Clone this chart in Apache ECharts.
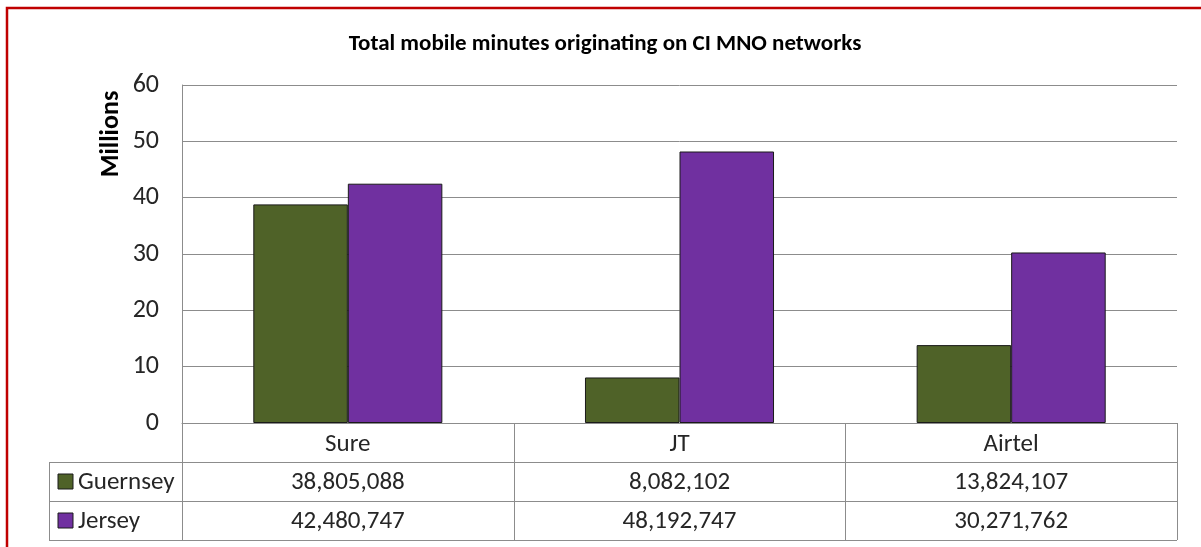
<!DOCTYPE html>
<html>
<head>
<meta charset="utf-8">
<script src="https://cdn.jsdelivr.net/npm/echarts@6/dist/echarts.min.js"></script>
<style>
  html, body { margin: 0; padding: 0; background: #fff; }
  #chart { width: 1201px; height: 547px; }
</style>
</head>
<body>
<div id="chart"></div>
<script>
// data
const operators = ["Sure", "JT", "Airtel"];
const seriesNames = ["Guernsey", "Jersey"];
const guernseyMinutes = [38805088, 8082102, 13824107];
const jerseyMinutes = [42480747, 48192747, 30271762];
const yTicks = { min: 0, max: 60, interval: 10 };

const colors = ["#4F6228", "#7030A0"];
const FONT = "Calibri, Carlito, 'Liberation Sans', Arial, sans-serif";
const gridLine = "#8c8c8c";
const textColor = "#262626";

// layout of plot area + table (px)
const plot = { left: 182, right: 1177, top: 85, bottom: 423 };
const rows = [423, 462, 501, 540];
const tableLeft = 49;

const chart = echarts.init(document.getElementById("chart"), null, { renderer: "canvas" });

const colW = (plot.right - plot.left) / operators.length;
const fmt = (n) => n.toLocaleString("en-US");

// table lines + texts
const graphics = [];
const line = (x1, y1, x2, y2) => ({
  type: "line",
  shape: { x1, y1, x2, y2 },
  style: { stroke: gridLine, lineWidth: 1 },
  silent: true,
});
rows.slice(1).forEach((y) => graphics.push(line(tableLeft, y + 0.5, plot.right, y + 0.5)));
graphics.push(line(tableLeft + 0.5, rows[1], tableLeft + 0.5, rows[3]));
for (let i = 0; i <= operators.length; i++) {
  const x = Math.round(plot.left + i * colW) + 0.5;
  graphics.push(line(x, rows[0], x, rows[3]));
}

[guernseyMinutes, jerseyMinutes].forEach((vals, r) => {
  const cy = (rows[r + 1] + rows[r + 2]) / 2;
  // legend key
  graphics.push({
    type: "rect",
    shape: { x: 58, y: cy - 7.5, width: 15, height: 15 },
    style: { fill: colors[r], stroke: "#1a1a1a", lineWidth: 1 },
  });
  graphics.push({
    type: "text",
    x: 78, y: cy + 1,
    style: { text: seriesNames[r], font: "25px " + FONT, fill: textColor, verticalAlign: "middle", align: "left" },
  });
  vals.forEach((v, i) => {
    graphics.push({
      type: "text",
      x: plot.left + (i + 0.5) * colW, y: cy + 1,
      style: { text: fmt(v), font: "25px " + FONT, fill: textColor, verticalAlign: "middle", align: "center" },
    });
  });
});

// axis title
graphics.push({
  type: "text",
  x: 111, y: 134,
  rotation: Math.PI / 2,
  style: { text: "Millions", font: "bold 26px " + FONT, fill: "#000", align: "center", verticalAlign: "middle" },
});

// red frame
graphics.push({
  type: "rect",
  shape: { x: 7, y: 8, width: 1400, height: 800 },
  style: { fill: null, stroke: "#C00000", lineWidth: 2.5 },
  silent: true,
});

const option = {
  animation: false,
  backgroundColor: "#fff",
  title: {
    text: "Total mobile minutes originating on CI MNO networks",
    left: 600,
    textAlign: "center",
    top: 28,
    textStyle: { fontFamily: FONT, fontSize: 23, fontWeight: "bold", color: "#000" },
  },
  grid: {
    left: plot.left,
    right: 1201 - plot.right,
    top: plot.top,
    bottom: 547 - plot.bottom,
  },
  xAxis: {
    type: "category",
    data: operators,
    axisLine: { show: true, lineStyle: { color: gridLine, width: 1 } },
    axisTick: { show: false },
    axisLabel: { fontFamily: FONT, fontSize: 25, color: textColor, margin: 9 },
  },
  yAxis: {
    type: "value",
    min: yTicks.min,
    max: yTicks.max,
    interval: yTicks.interval,
    axisLine: { show: true, lineStyle: { color: gridLine, width: 1 } },
    axisTick: { show: false },
    axisLabel: { fontFamily: FONT, fontSize: 26, color: textColor, margin: 23 },
    splitLine: { show: true, lineStyle: { color: gridLine, width: 1 } },
  },
  series: [
    {
      name: seriesNames[0],
      type: "bar",
      data: guernseyMinutes.map((v) => v / 1e6),
      barGap: "0%",
      barCategoryGap: "43%",
      itemStyle: { color: colors[0], borderColor: "#1a1a1a", borderWidth: 1 },
    },
    {
      name: seriesNames[1],
      type: "bar",
      data: jerseyMinutes.map((v) => v / 1e6),
      barGap: "0%",
      barCategoryGap: "43%",
      itemStyle: { color: colors[1], borderColor: "#1a1a1a", borderWidth: 1 },
    },
  ],
  graphic: graphics,
};

chart.setOption(option);
</script>
</body>
</html>
